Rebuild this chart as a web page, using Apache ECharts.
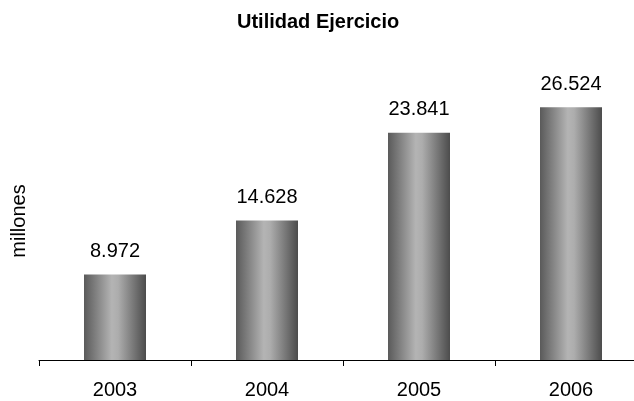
<!DOCTYPE html>
<html><head><meta charset="utf-8">
<script src="https://cdn.jsdelivr.net/npm/echarts@6/dist/echarts.min.js"></script>
<style>html,body{margin:0;padding:0;background:#fff;overflow:hidden}#c{width:660px;height:401px}</style>
</head><body><div id="c"></div>
<script>
var categories = ['2003', '2004', '2005', '2006'];
var values = [8.972, 14.628, 23.841, 26.524];
var titleText = 'Utilidad Ejercicio';
var yName = 'millones';

var chart = echarts.init(document.getElementById('c'));
chart.setOption({
  animation: false,
  backgroundColor: '#fff',
  title: {
    text: titleText, left: 237, top: 12, padding: 0,
    textStyle: { fontFamily: 'Liberation Sans, Arial', fontWeight: 'bold', fontSize: 20, color: '#000' }
  },
  grid: { left: 39, right: 13, top: 74, bottom: 41 },
  xAxis: {
    type: 'category', data: categories,
    axisLine: { lineStyle: { color: '#000', width: 1 } },
    axisTick: { show: true, length: 6, lineStyle: { color: '#000' } },
    axisLabel: { margin: 20, fontFamily: 'Liberation Sans, Arial', fontSize: 20, color: '#000' }
  },
  yAxis: {
    type: 'value', min: 0, max: 30,
    name: yName, nameLocation: 'middle', nameGap: 10,
    nameTextStyle: { fontFamily: 'Liberation Sans, Arial', fontSize: 20, color: '#000', padding: [0, 8, 0, 0] },
    axisLine: { show: false }, axisTick: { show: false },
    axisLabel: { show: false }, splitLine: { show: false }
  },
  series: [{
    type: 'bar', data: values, barWidth: 62,
    itemStyle: {
      color: new echarts.graphic.LinearGradient(0, 0, 1, 0, [
        { offset: 0, color: '#5a5a5a' },
        { offset: 0.45, color: '#b4b4b4' },
        { offset: 0.55, color: '#adadad' },
        { offset: 1, color: '#4c4c4c' }
      ])
    },
    label: {
      show: true, position: 'top', distance: 13,
      fontFamily: 'Liberation Sans, Arial', fontSize: 20, color: '#000',
      formatter: function (p) { return p.value.toFixed(3); }
    }
  }]
});
</script></body></html>
